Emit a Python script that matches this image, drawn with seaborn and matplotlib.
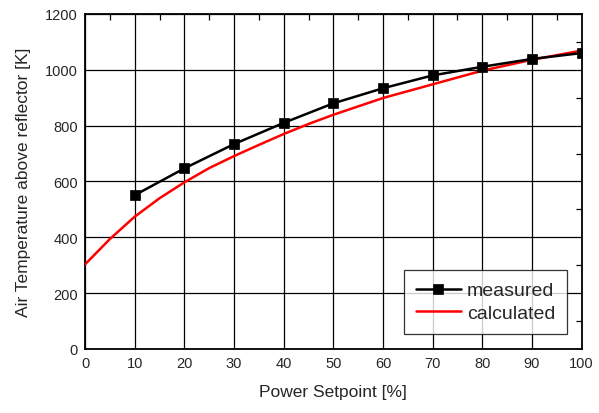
import matplotlib
matplotlib.use("Agg")
import matplotlib.pyplot as plt
import seaborn as sns
import pandas as pd
from matplotlib.ticker import MultipleLocator

power_measured = [10, 20, 30, 40, 50, 60, 70, 80, 90, 100]
temp_measured = [551, 647, 734, 810, 880, 934, 980, 1011, 1039, 1060]

power_calc = [0, 5, 10, 15, 20, 25, 30, 35, 40, 45, 50, 60, 70, 80, 90, 100]
temp_calc = [303, 394, 474, 540, 597, 648, 691, 731, 770, 806, 839, 899, 948, 997, 1036, 1069]

df_m = pd.DataFrame({"power": power_measured, "temp": temp_measured})
df_c = pd.DataFrame({"power": power_calc, "temp": temp_calc})

sns.set_style("white")
plt.rcParams['font.family'] = ['Liberation Sans', 'DejaVu Sans']

fig = plt.figure(figsize=(5.99, 4.14), dpi=100)
ax = fig.add_axes([0.142, 0.1546, 0.829, 0.8092])

sns.lineplot(data=df_m, x="power", y="temp", ax=ax, color="black", lw=1.8,
             marker="s", markersize=7.5, markeredgewidth=0.5, markeredgecolor="black",
             label="measured", zorder=4)
sns.lineplot(data=df_c, x="power", y="temp", ax=ax, color="#ff0000", lw=1.8,
             label="calculated", zorder=3)

ax.set_xlim(0, 100)
ax.set_ylim(0, 1200)
ax.xaxis.set_major_locator(MultipleLocator(10))
ax.xaxis.set_minor_locator(MultipleLocator(5))
ax.yaxis.set_major_locator(MultipleLocator(200))
ax.yaxis.set_minor_locator(MultipleLocator(100))
ax.grid(True, which="major", color="black", lw=0.9)
ax.set_axisbelow(True)
ax.tick_params(which="both", direction="in", top=True, right=True, labelsize=10.5, color="black")
ax.tick_params(which="major", length=0, pad=5)
ax.tick_params(which="minor", length=4, width=0.9)
for s in ax.spines.values():
    s.set_color("black")
    s.set_linewidth(1.3)

ax.set_xlabel("Power Setpoint [%]", fontsize=12.5, labelpad=10)
ax.set_ylabel("Air Temperature above reflector [K]", fontsize=12.5, labelpad=10)

leg = ax.legend(loc="lower right", bbox_to_anchor=(0.970, 0.046), fontsize=14, frameon=True,
                fancybox=False, edgecolor="black", handlelength=2.3, borderpad=0.6,
                labelspacing=0.25, handletextpad=0.3, borderaxespad=0)
leg.get_frame().set_linewidth(0.9)

fig.savefig("out.png", dpi=100)
